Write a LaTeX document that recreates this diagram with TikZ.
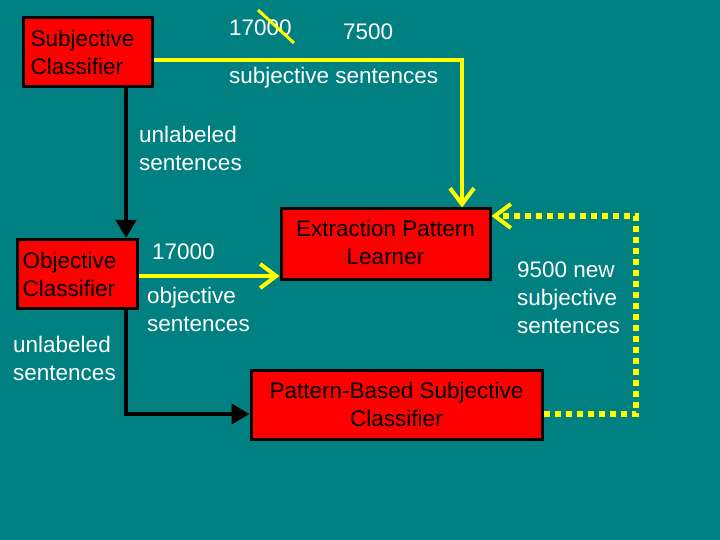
\documentclass[tikz,border=0pt]{standalone}
\usepackage{fontspec}
\setmainfont{Liberation Sans}
\usetikzlibrary{arrows.meta}
\definecolor{bg}{RGB}{0,128,128}
\definecolor{yel}{RGB}{255,255,0}
\begin{document}
\begin{tikzpicture}[x=1pt,y=-1pt,
  box/.style={draw=black,line width=3pt,fill=red,inner sep=0pt,align=center,font=\fontsize{22.5}{28}\selectfont},
  lbl/.style={text=white,font=\fontsize{22.5}{28}\selectfont,align=left,inner sep=0pt},
  yline/.style={draw=yel,line width=4.5pt},
  bline/.style={draw=black,line width=4pt},
  ytip/.style={-{Straight Barb[length=16pt,width=24pt,line width=4pt]}},
  btip/.style={-{Triangle[length=18pt,width=20pt]}}]
\fill[bg] (0,0) rectangle (720,540);
\useasboundingbox (0,0) rectangle (720,540);
\node[box,minimum width=129pt,minimum height=69pt] (sc) at (87.5,52) {};
\node[anchor=west,inner sep=0pt,align=left,font=\fontsize{22.5}{28}\selectfont] (sct) at ([xshift=9pt]sc.west) {Subjective\\Classifier};
\node[box,minimum width=120pt,minimum height=69pt] (oc) at (77,274) {};
\node[anchor=west,inner sep=0pt,align=left,font=\fontsize{22.5}{28}\selectfont] (oct) at ([xshift=7pt]oc.west) {Objective\\Classifier};
\node[box,minimum width=209pt,minimum height=70pt] (epl) at (385.5,244) {};
\node[inner sep=0pt,align=center,font=\fontsize{22.5}{28}\selectfont] (eplt) at (385.5,242) {Extraction Pattern\\Learner};
\node[box,minimum width=291pt,minimum height=69pt] (pb) at (396.5,404.5) {Pattern-Based Subjective\\Classifier};
\coordinate (c1) at (462,60);
\coordinate (c2) at (126,414);
\coordinate (c3) at (636,414);
\coordinate (c4) at (636,216);
\draw[yline,ytip] (sc.east |- c1) -- (c1) -- (c1 |- epl.north);
\draw[bline,btip] (sc.south -| c2) -- (oc.north -| c2);
\draw[yline,ytip] (oc.east |- 0,276) -- (epl.west |- 0,276);
\draw[bline,btip] (oc.south -| c2) -- (c2) -- (pb.west |- c2);
\draw[yline,line width=5.5pt,dash pattern=on 6pt off 5pt,ytip] (pb.east |- c3) -- (c3) -- (c4) -- (epl.east |- c4);
\node[lbl,anchor=west] (n1) at (229,28) {17000};
\draw[yel,line width=3pt] (258,10) -- (294,43);
\node[lbl,anchor=west] (n2) at (343,32) {7500};
\node[lbl,anchor=west] (t1) at (229,78) {subjective sentences};
\node[lbl,anchor=west] (t2) at (139,148) {unlabeled\\sentences};
\node[lbl,anchor=west] (n3) at (152,252) {17000};
\node[lbl,anchor=west] (t3) at (147,309) {objective\\sentences};
\node[lbl,anchor=west] (t4) at (13,358) {unlabeled\\sentences};
\node[lbl,anchor=west] (t5) at (517,298) {9500 new\\subjective\\sentences};
\end{tikzpicture}
\end{document}
